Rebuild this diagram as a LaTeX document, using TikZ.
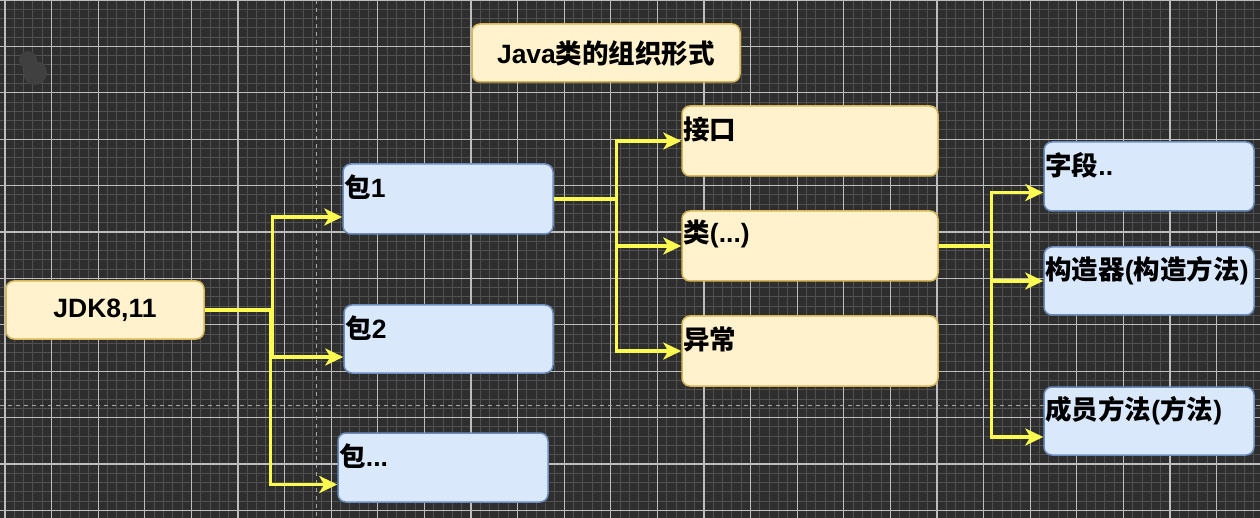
\documentclass[tikz,border=0pt]{standalone}
\usepackage{fontspec}
\setmainfont{Liberation Sans}
\newfontfamily\cjk{Noto Sans CJK SC Bold}
\usetikzlibrary{arrows.meta,calc}
\newcommand\zhs[1]{{\cjk #1}}
\definecolor{bgc}{HTML}{2E2E2E}
\definecolor{minorc}{HTML}{505050}
\definecolor{majorc}{HTML}{BDBDBD}
\definecolor{pagec}{HTML}{A8A8A8}
\definecolor{yfill}{HTML}{FFF2CC}
\definecolor{ydraw}{HTML}{D6B656}
\definecolor{bfill}{HTML}{DAE8FC}
\definecolor{bdraw}{HTML}{6C8EBF}
\definecolor{arrc}{HTML}{FAFA50}
\definecolor{blobc}{HTML}{404040}
\tikzset{
  box/.style={rectangle, rounded corners=8pt, line width=1.5pt, inner sep=0pt,
    font=\fontsize{26.5}{30}\selectfont\bfseries},
  ybox/.style={box, fill=yfill, draw=ydraw},
  bbox/.style={box, fill=bfill, draw=bdraw},
  tl/.style={label={[anchor=west, inner sep=0pt, xshift=2pt, yshift=-24pt,
    font=\fontsize{26.5}{30}\selectfont\bfseries]north west:{#1}}},
  arr/.style={draw=arrc, line width=3.4pt, -{Stealth[length=18pt, width=17pt, inset=5pt]}},
}
\begin{document}
\begin{tikzpicture}[x=1pt, y=-1pt]
\useasboundingbox (0,0) rectangle (1260,518);
\fill[bgc] (0,0) rectangle (1260,518);
% minor grid
\foreach \i in {0,...,136} {
  \draw[minorc, line width=1pt] (5+\i*9.32-9.32, 0) -- ++(0,518);
}
\foreach \j in {0,...,56} {
  \draw[minorc, line width=1pt] (0, \j*9.28) -- ++(1260,0);
}
% major grid
\foreach \i in {0,...,27} {
  \draw[majorc, line width=1.3pt] (5+\i*46.6, 0) -- ++(0,518);
}
\foreach \j in {0,...,11} {
  \draw[majorc, line width=1.3pt] (0, \j*46.4) -- ++(1260,0);
}
% page break lines
\draw[pagec, line width=1.6pt, dash pattern=on 4pt off 4pt] (316.5,0) -- (316.5,518);
\draw[pagec, line width=1.6pt, dash pattern=on 4pt off 4pt] (0,405.5) -- (1260,405.5);
% faint blob
\fill[blobc] (28,60) circle (9);
\fill[blobc] (35,73) circle (12);

% nodes
\node[ybox, minimum width=268pt, minimum height=58pt] (title) at (606,53) {Java\zhs{类的组织形式}};
\node[ybox, minimum width=198pt, minimum height=58pt] (jdk) at (105,310) {JDK8,11};

\node[bbox, minimum width=210pt, minimum height=70pt, tl={\zhs{包}1}] (b1) at (448,199) {};
\node[bbox, minimum width=209pt, minimum height=68pt, tl={\zhs{包}2}] (b2) at (448.5,339) {};
\node[bbox, minimum width=210pt, minimum height=69pt, tl={\zhs{包}...}] (b3) at (443,467.5) {};

\node[ybox, minimum width=256pt, minimum height=70pt, tl={\zhs{接口}}] (m1) at (810,141) {};
\node[ybox, minimum width=256pt, minimum height=70pt, tl={\zhs{类}(...)}] (m2) at (810,246) {};
\node[ybox, minimum width=256pt, minimum height=70pt, tl={\zhs{异常}}] (m3) at (810,351) {};

\node[bbox, minimum width=210pt, minimum height=69pt, tl={\zhs{字段}..}] (r1) at (1149,176.5) {};
\node[bbox, minimum width=210pt, minimum height=68pt, tl={\zhs{构造器}(\zhs{构造方法})}] (r2) at (1149,281) {};
\node[bbox, minimum width=210pt, minimum height=68pt, tl={\zhs{成员方法}(\zhs{方法})}] (r3) at (1149,421) {};

% connectors
\draw[arr] (jdk.east) -- ++(68,0) |- ([yshift=-18pt]b1.west);
\draw[arr] (jdk.east) -- ++(68,0) |- ([yshift=-18pt]b2.west);
\draw[arr] (jdk.east) -- ++(66,0) |- ([yshift=-17pt]b3.west);

\draw[arr] (b1.east) -- ++(63,0) |- (m1.west);
\draw[arr] (b1.east) -- ++(63,0) |- (m2.west);
\draw[arr] (b1.east) -- ++(63,0) |- (m3.west);

\draw[arr] (m2.east) -- ++(53,0) |- ([yshift=-16pt]r1.west);
\draw[arr] (m2.east) -- ++(53,0) |- (r2.west);
\draw[arr] (m2.east) -- ++(53,0) |- ([yshift=-16pt]r3.west);
\end{tikzpicture}
\end{document}
